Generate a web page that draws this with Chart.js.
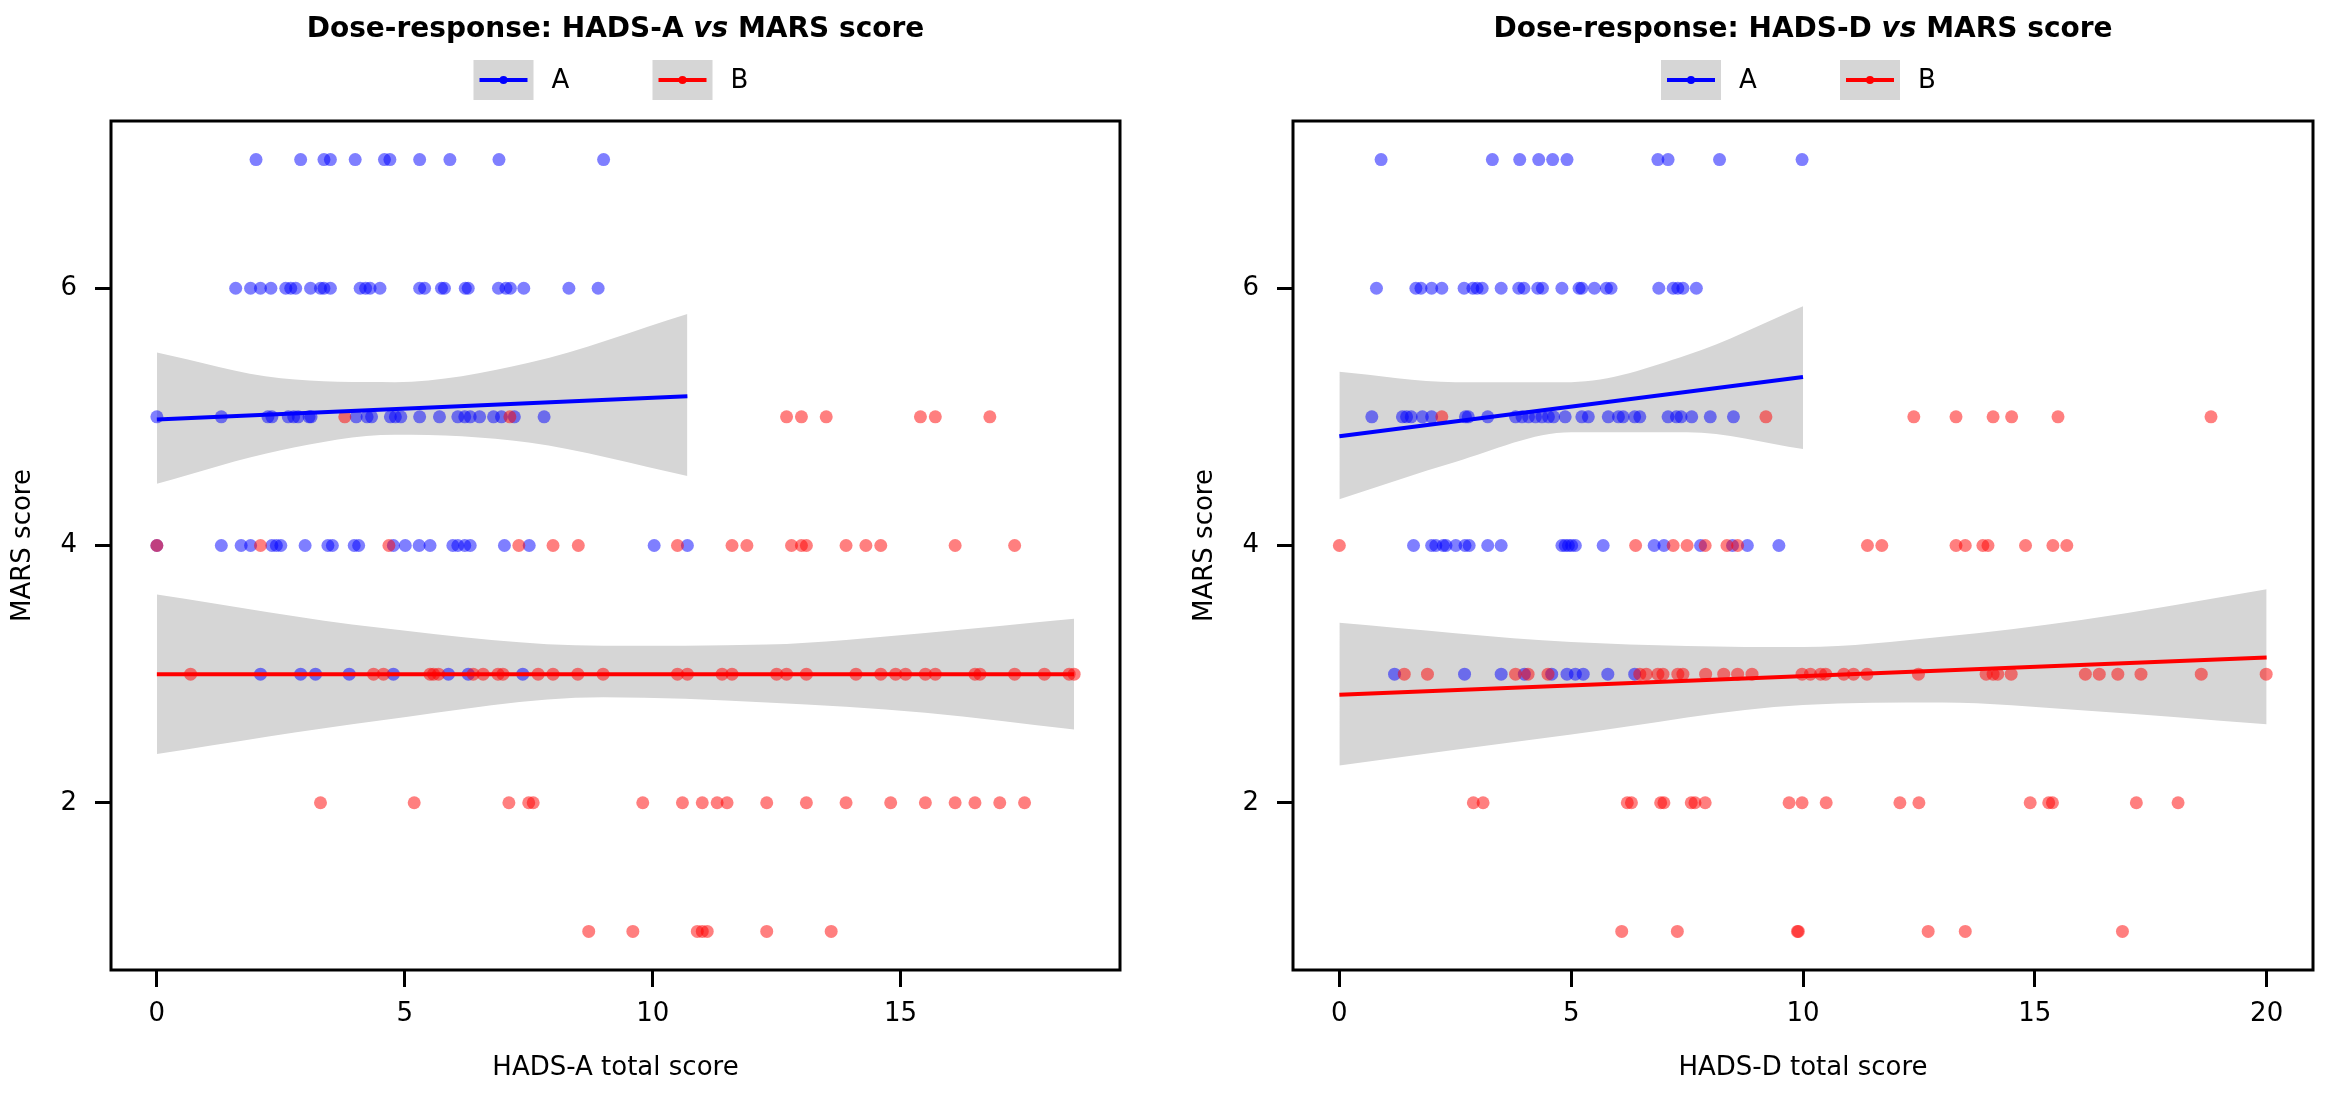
<!DOCTYPE html>
<html>
<head>
<meta charset="utf-8">
<script src="https://cdn.jsdelivr.net/npm/chart.js@4.4.1/dist/chart.umd.min.js"></script>
<style>
  html, body { margin: 0; padding: 0; background: #fff; }
  #wrap { position: relative; width: 2325px; height: 1100px; }
  #left { position: absolute; left: 0; top: 0; }
  #right { position: absolute; left: 1182px; top: 0; }
</style>
</head>
<body>
<div id="wrap">
  <div id="left" style="width:1182px;height:1100px"><canvas id="chartLeft"></canvas></div>
  <div id="right" style="width:1143px;height:1100px"><canvas id="chartRight"></canvas></div>
</div>
<script>
// HADS-A panel: x positions of the points on each MARS row
const leftBlueX7 = [2.0, 2.9, 3.37, 3.5, 4.0, 4.59, 4.7, 5.3, 5.91, 6.9, 9.01];
const leftBlueX6 = [1.59, 1.89, 2.09, 2.30, 2.60, 2.70, 2.80, 3.10, 3.30, 3.37, 3.50, 4.10, 4.21, 4.30, 4.50, 5.30, 5.40, 5.74, 5.80, 6.22, 6.28, 6.89, 7.04, 7.13, 7.40, 8.31, 8.90];
const leftBlueX5 = [0, 1.30, 2.24, 2.32, 2.65, 2.76, 2.85, 3.07, 3.11, 4.02, 4.24, 4.33, 4.71, 4.81, 4.92, 5.30, 5.70, 6.07, 6.21, 6.32, 6.51, 6.79, 6.95, 7.21, 7.81];
const leftBlueX4 = [0, 1.30, 1.70, 1.89, 2.32, 2.41, 2.50, 2.99, 3.45, 3.54, 3.98, 4.07, 4.77, 5.01, 5.29, 5.51, 5.97, 6.07, 6.21, 6.32, 7.01, 7.51, 10.03, 10.70];
const leftBlueX3 = [2.09, 2.90, 3.20, 3.88, 4.77, 5.88, 6.28, 7.38];
const leftRedX5 = [3.79, 7.12, 12.7, 13.0, 13.5, 15.4, 15.7, 16.8];
const leftRedX4 = [0, 2.09, 4.68, 7.30, 7.99, 8.50, 10.5, 11.6, 11.9, 12.8, 13.0, 13.1, 13.9, 14.3, 14.6, 16.1, 17.3];
const leftRedX3 = [0.68, 4.37, 4.57, 5.51, 5.58, 5.68, 6.38, 6.58, 6.88, 6.98, 7.69, 7.99, 8.49, 9.0, 10.5, 10.7, 11.4, 11.6, 12.5, 12.7, 13.1, 14.1, 14.6, 14.9, 15.1, 15.5, 15.7, 16.5, 16.6, 17.3, 17.9, 18.4, 18.5];
const leftRedX2 = [3.30, 5.19, 7.10, 7.50, 7.59, 9.8, 10.6, 11.0, 11.3, 11.5, 12.3, 13.1, 13.9, 14.8, 15.5, 16.1, 16.5, 17.0, 17.5];
const leftRedX1 = [8.71, 9.6, 10.9, 11.0, 11.1, 12.3, 13.6];

// HADS-A regression lines and confidence bands
const leftBlueFitX = [0, 10.7];
const leftBlueFitY = [4.98, 5.16];
const leftBlueBandX = [0, 2.5, 4.8, 7.5, 10.7];
const leftBlueBandHi = [5.50, 5.30, 5.27, 5.42, 5.80];
const leftBlueBandLo = [4.48, 4.74, 4.86, 4.80, 4.54];
const leftRedFitX = [0, 18.5];
const leftRedFitY = [3.0, 3.0];
const leftRedBandX = [0, 4.5, 9, 12.3, 15.5, 18.5];
const leftRedBandHi = [3.62, 3.36, 3.22, 3.23, 3.32, 3.43];
const leftRedBandLo = [2.38, 2.64, 2.82, 2.78, 2.70, 2.57];

// HADS-D panel
const rightBlueX7 = [0.90, 3.30, 3.89, 4.30, 4.60, 4.91, 6.87, 7.09, 8.20, 9.98];
const rightBlueX6 = [0.80, 1.65, 1.76, 1.99, 2.21, 2.69, 2.88, 2.97, 3.08, 3.49, 3.87, 3.98, 4.28, 4.38, 4.80, 5.17, 5.23, 5.50, 5.76, 5.86, 6.89, 7.20, 7.30, 7.41, 7.70];
const rightBlueX5 = [0.70, 1.36, 1.45, 1.55, 1.79, 1.99, 2.72, 2.78, 3.20, 3.80, 3.94, 4.08, 4.23, 4.37, 4.51, 4.62, 4.87, 5.23, 5.37, 5.80, 6.02, 6.12, 6.37, 6.48, 7.09, 7.27, 7.37, 7.60, 8.00, 8.50];
const rightBlueX4 = [1.60, 1.99, 2.08, 2.24, 2.30, 2.51, 2.71, 2.80, 3.20, 3.49, 4.80, 4.87, 4.94, 5.01, 5.09, 5.69, 6.79, 7.00, 7.79, 8.48, 8.80, 9.48];
const rightBlueX3 = [1.19, 2.70, 3.49, 3.99, 4.58, 4.91, 5.09, 5.26, 5.79, 6.37];
const rightRedX5 = [2.21, 9.20, 12.39, 13.30, 14.10, 14.50, 15.50, 18.80];
const rightRedX4 = [0, 6.39, 7.20, 7.50, 7.89, 8.36, 8.59, 11.39, 11.70, 13.30, 13.50, 13.88, 13.99, 14.80, 15.39, 15.69];
const rightRedX3 = [1.40, 1.90, 3.80, 4.07, 4.50, 6.48, 6.62, 6.87, 6.98, 7.30, 7.41, 7.90, 8.29, 8.59, 8.90, 9.98, 10.16, 10.38, 10.49, 10.88, 11.09, 11.38, 12.49, 13.95, 14.10, 14.20, 14.49, 16.09, 16.39, 16.79, 17.29, 18.59, 19.99];
const rightRedX2 = [2.89, 3.10, 6.21, 6.30, 6.93, 7.00, 7.59, 7.67, 7.89, 9.70, 9.98, 10.50, 12.09, 12.50, 14.90, 15.30, 15.38, 17.19, 18.09];
const rightRedX1 = [6.09, 7.29, 9.88, 9.90, 12.70, 13.50, 16.89];

const rightBlueFitX = [0, 10];
const rightBlueFitY = [4.85, 5.31];
const rightBlueBandX = [0, 2.5, 5, 7.5, 10];
const rightBlueBandHi = [5.35, 5.27, 5.27, 5.48, 5.86];
const rightBlueBandLo = [4.36, 4.65, 4.88, 4.88, 4.75];
const rightRedFitX = [0, 20];
const rightRedFitY = [2.84, 3.13];
const rightRedBandX = [0, 5, 10, 13, 16, 20];
const rightRedBandHi = [3.40, 3.25, 3.21, 3.29, 3.42, 3.66];
const rightRedBandLo = [2.29, 2.53, 2.76, 2.78, 2.72, 2.61];

const yTicks = [2, 4, 6];
const leftXTicks = [0, 5, 10, 15];
const rightXTicks = [0, 5, 10, 15, 20];
const groupLabels = ['A', 'B'];

const BLUE = '#0000ff';
const RED = '#ff0000';
const BAND = '#d6d6d6';
const FONT = 'DejaVu Sans';

function rowsToPoints(rows) {
    // rows: [[xs, y], ...]
    const pts = [];
    rows.forEach(([xs, y]) => xs.forEach(x => pts.push({ x: x, y: y })));
    return pts;
}

function zip(xs, ys) {
    return xs.map((x, i) => ({ x: x, y: ys[i] }));
}

function bandSets(xs, hi, lo) {
    const common = {
        type: 'line', pointRadius: 0, borderWidth: 0, borderColor: 'rgba(0,0,0,0)',
        backgroundColor: BAND, tension: 0.4, cubicInterpolationMode: 'monotone', order: 5
    };
    return [
        Object.assign({}, common, { data: zip(xs, hi), fill: '+1' }),
        Object.assign({}, common, { data: zip(xs, lo), fill: false })
    ];
}

const framePlugin = {
    id: 'frame',
    afterDatasetsDraw(chart, args, opts) {
        const { ctx, chartArea: a } = chart;
        ctx.save();
        ctx.strokeStyle = '#000';
        ctx.lineWidth = 3;
        ctx.strokeRect(a.left, a.top, a.right - a.left, a.bottom - a.top);

        // title and legend
        const cx = (a.left + a.right) / 2;
        ctx.fillStyle = '#000';
        ctx.textAlign = 'center';
        ctx.textBaseline = 'middle';
        const parts = opts.title;
        ctx.font = 'bold 28px "' + FONT + '"';
        let total = 0;
        const widths = parts.map(p => {
            ctx.font = (p.italic ? 'italic ' : '') + 'bold 28px "' + FONT + '"';
            const w = ctx.measureText(p.text).width;
            total += w;
            return w;
        });
        let tx = cx - total / 2;
        ctx.textAlign = 'left';
        parts.forEach((p, i) => {
            ctx.font = (p.italic ? 'italic ' : '') + 'bold 28px "' + FONT + '"';
            ctx.fillText(p.text, tx, 30);
            tx += widths[i];
        });

        const colors = [BLUE, RED];
        const offsets = [-142, 37];
        ctx.font = '26px "' + FONT + '"';
        groupLabels.forEach((lab, i) => {
            const bx = cx + offsets[i];
            ctx.fillStyle = BAND;
            ctx.fillRect(bx, 60, 60, 40);
            ctx.strokeStyle = colors[i];
            ctx.lineWidth = 4;
            ctx.beginPath();
            ctx.moveTo(bx + 6, 80);
            ctx.lineTo(bx + 54, 80);
            ctx.stroke();
            ctx.fillStyle = colors[i];
            ctx.beginPath();
            ctx.arc(bx + 30, 80, 4, 0, Math.PI * 2);
            ctx.fill();
            ctx.fillStyle = '#000';
            ctx.fillText(lab, bx + 78, 81);
        });
        ctx.restore();
    }
};

function makeChart(id, cfg) {
    const datasets = [
        ...bandSets(cfg.blueBandX, cfg.blueBandHi, cfg.blueBandLo),
        ...bandSets(cfg.redBandX, cfg.redBandHi, cfg.redBandLo),
        { type: 'scatter', data: cfg.bluePts, backgroundColor: 'rgba(0,0,255,0.5)', borderWidth: 0, pointRadius: 6.5, order: 3 },
        { type: 'scatter', data: cfg.redPts, backgroundColor: 'rgba(255,0,0,0.5)', borderWidth: 0, pointRadius: 6.5, order: 2 },
        { type: 'line', data: cfg.blueFit, borderColor: BLUE, borderWidth: 4, pointRadius: 0, fill: false, order: 1 },
        { type: 'line', data: cfg.redFit, borderColor: RED, borderWidth: 4, pointRadius: 0, fill: false, order: 1 }
    ];
    return new Chart(document.getElementById(id), {
        type: 'scatter',
        data: { datasets: datasets },
        plugins: [framePlugin],
        options: {
            responsive: true,
            maintainAspectRatio: false,
            animation: false,
            layout: { padding: { top: 121, right: cfg.rightPad, left: 0, bottom: 0 } },
            plugins: {
                legend: { display: false },
                tooltip: { enabled: false },
                frame: { title: cfg.title }
            },
            scales: {
                x: {
                    type: 'linear', min: cfg.xMin, max: cfg.xMax,
                    afterBuildTicks: s => { s.ticks = cfg.xTicks.map(v => ({ value: v })); },
                    afterFit: s => { s.height = 130; },
                    grid: { drawOnChartArea: false, color: '#000', lineWidth: 3, tickLength: 17 },
                    border: { display: false },
                    ticks: { color: '#000', font: { family: FONT, size: 26 }, padding: 12, maxRotation: 0 },
                    title: { display: true, text: cfg.xTitle, color: '#000', font: { family: FONT, size: 26 }, padding: { top: 4, bottom: 16 } }
                },
                y: {
                    type: 'linear', min: 0.7, max: 7.3,
                    afterBuildTicks: s => { s.ticks = yTicks.map(v => ({ value: v })); },
                    afterFit: s => { s.width = 111; },
                    grid: { drawOnChartArea: false, color: '#000', lineWidth: 3, tickLength: 16 },
                    border: { display: false },
                    ticks: { color: '#000', font: { family: FONT, size: 26 }, padding: 18 },
                    title: { display: true, text: 'MARS score', color: '#000', font: { family: FONT, size: 26 }, padding: { top: 8, bottom: 0 } }
                }
            }
        }
    });
}

makeChart('chartLeft', {
    title: [{ text: 'Dose-response: HADS-A ' }, { text: 'vs', italic: true }, { text: ' MARS score' }],
    xTitle: 'HADS-A total score',
    xMin: -0.925, xMax: 19.425, xTicks: leftXTicks, rightPad: 62,
    bluePts: rowsToPoints([[leftBlueX7, 7], [leftBlueX6, 6], [leftBlueX5, 5], [leftBlueX4, 4], [leftBlueX3, 3]]),
    redPts: rowsToPoints([[leftRedX5, 5], [leftRedX4, 4], [leftRedX3, 3], [leftRedX2, 2], [leftRedX1, 1]]),
    blueFit: zip(leftBlueFitX, leftBlueFitY), redFit: zip(leftRedFitX, leftRedFitY),
    blueBandX: leftBlueBandX, blueBandHi: leftBlueBandHi, blueBandLo: leftBlueBandLo,
    redBandX: leftRedBandX, redBandHi: leftRedBandHi, redBandLo: leftRedBandLo
});

makeChart('chartRight', {
    title: [{ text: 'Dose-response: HADS-D ' }, { text: 'vs', italic: true }, { text: ' MARS score' }],
    xTitle: 'HADS-D total score',
    xMin: -1, xMax: 21, xTicks: rightXTicks, rightPad: 12,
    bluePts: rowsToPoints([[rightBlueX7, 7], [rightBlueX6, 6], [rightBlueX5, 5], [rightBlueX4, 4], [rightBlueX3, 3]]),
    redPts: rowsToPoints([[rightRedX5, 5], [rightRedX4, 4], [rightRedX3, 3], [rightRedX2, 2], [rightRedX1, 1]]),
    blueFit: zip(rightBlueFitX, rightBlueFitY), redFit: zip(rightRedFitX, rightRedFitY),
    blueBandX: rightBlueBandX, blueBandHi: rightBlueBandHi, blueBandLo: rightBlueBandLo,
    redBandX: rightRedBandX, redBandHi: rightRedBandHi, redBandLo: rightRedBandLo
});
</script>
</body>
</html>
